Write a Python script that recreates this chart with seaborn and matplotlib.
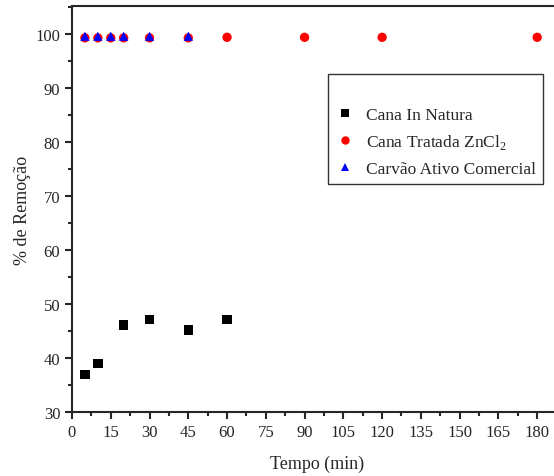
import matplotlib
matplotlib.use("Agg")
import matplotlib.pyplot as plt
import seaborn as sns
import pandas as pd
from matplotlib.ticker import MultipleLocator

sns.set_style("ticks")
plt.rcParams['font.family'] = ['Liberation Serif', 'DejaVu Serif']
plt.rcParams['mathtext.fontset'] = 'custom'
plt.rcParams['mathtext.rm'] = 'Liberation Serif'

t_natura = [5, 10, 20, 30, 45, 60]
r_natura = [37.0, 39.0, 46.1, 47.1, 45.2, 47.1]
t_zncl2 = [5, 10, 15, 20, 30, 45, 60, 90, 120, 180]
r_zncl2 = [99.3, 99.3, 99.3, 99.3, 99.3, 99.3, 99.4, 99.4, 99.4, 99.4]
t_carvao = [5, 10, 15, 20, 30, 45]
r_carvao = [99.6, 99.6, 99.6, 99.6, 99.6, 99.6]

labels = ["Cana In Natura", "Cana Tratada ZnCl$_2$", "Carvão Ativo Comercial"]

df = pd.concat([
    pd.DataFrame({"t": t_natura, "r": r_natura, "s": labels[0]}),
    pd.DataFrame({"t": t_zncl2, "r": r_zncl2, "s": labels[1]}),
    pd.DataFrame({"t": t_carvao, "r": r_carvao, "s": labels[2]}),
])

fig = plt.figure(figsize=(5.54, 4.77), dpi=100)
ax = fig.add_axes([72/554, 64/477, 491/554, 406/477])

sns.scatterplot(data=df, x="t", y="r", hue="s", style="s",
                palette={labels[0]: "black", labels[1]: "red", labels[2]: "blue"},
                markers={labels[0]: "s", labels[1]: "o", labels[2]: "^"},
                s=45, linewidth=0, ax=ax, legend=True)

ax.set_xlim(0, 190)
ax.set_ylim(30, 105.2)
ax.xaxis.set_minor_locator(MultipleLocator(7.5))
ax.yaxis.set_major_locator(MultipleLocator(10))
ax.yaxis.set_minor_locator(MultipleLocator(5))
ax.set_xticks([0, 15, 30, 45, 60, 75, 90, 105, 120, 135, 150, 165, 180])
for sp in ax.spines.values():
    sp.set_linewidth(1.5)
ax.spines['right'].set_visible(False)
ax.tick_params(which='major', direction='out', length=5, width=1.5, labelsize=12)
ax.tick_params(which='minor', direction='out', length=3, width=1.5)
ax.set_xlabel("Tempo (min)", fontsize=13, labelpad=11)
ax.set_ylabel("% de Remoção", fontsize=13, labelpad=3)

h, l = ax.get_legend_handles_labels()
leg = ax.legend(h, l, loc='upper left', bbox_to_anchor=((328-72)/491, (406-68)/406),
                frameon=True, fancybox=False, edgecolor='black', fontsize=12.5,
                title=" ", title_fontsize=12.5, borderpad=0.4, borderaxespad=0,
                handletextpad=0.6, labelspacing=0.55, handlelength=1.2,
                markerscale=0.9)
leg.get_frame().set_linewidth(1.0)

fig.savefig("out.png", dpi=100)
